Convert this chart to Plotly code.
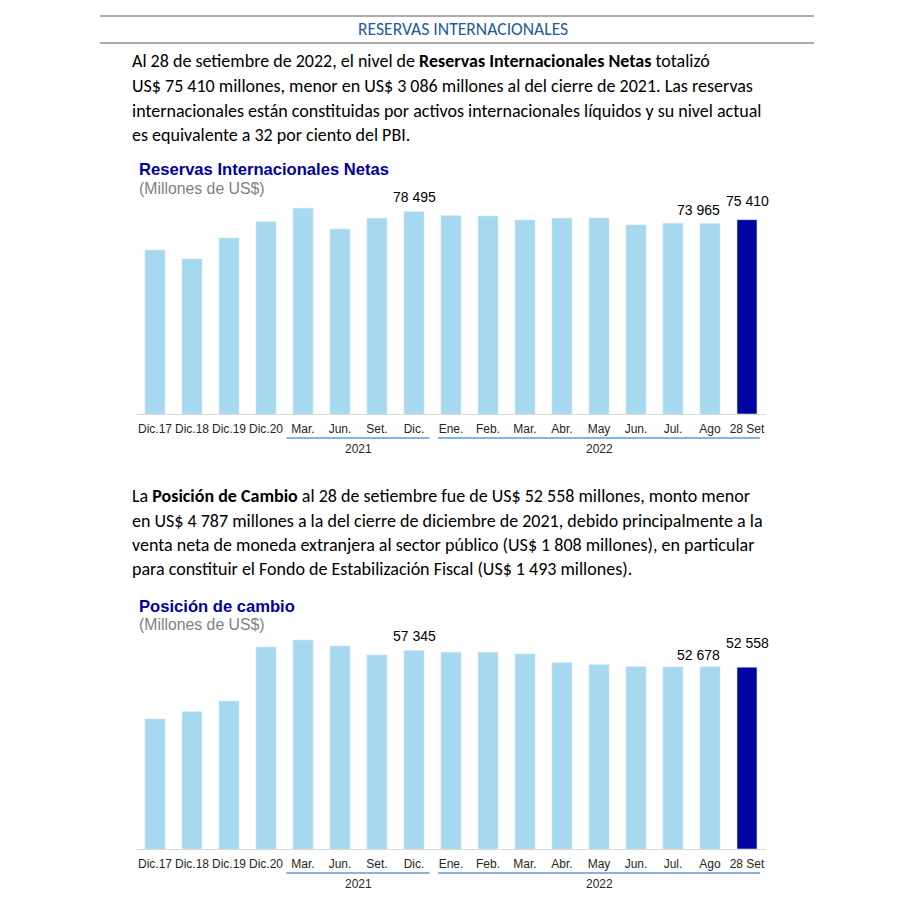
import plotly.graph_objects as go

W, H = 900, 902
OFF = 8  # page body margin of the browser


def px(x):
    return (x - OFF) / W


def py(y):
    return 1 - (y - OFF) / H


# ---------------- data ----------------
categories = ["Dic.17", "Dic.18", "Dic.19", "Dic.20", "Mar.", "Jun.", "Set.", "Dic.",
              "Ene.", "Feb.", "Mar.", "Abr.", "May", "Jun.", "Jul.", "Ago", "28 Set"]
rin = [63660, 60170, 68320, 74650, 79860, 71820, 75970, 78495,
       76980, 76860, 75310, 75970, 76090, 73370, 74030, 73965, 75410]
posicion = [37570, 39680, 42770, 58380, 60400, 58670, 56070, 57345,
            56870, 56850, 56360, 53840, 53270, 52690, 52600, 52678, 52558]
year_labels = ["2021", "2022"]
year_start = [4, 8]
year_end = [7, 16]
labeled_idx = [7, 15, 16]

page_title = "RESERVAS INTERNACIONALES"
para1 = [
    "Al 28 de setiembre de 2022, el nivel de <b>Reservas Internacionales Netas</b> totalizó",
    "US$ 75 410 millones, menor en US$ 3 086 millones al del cierre de 2021. Las reservas",
    "internacionales están constituidas por activos internacionales líquidos y su nivel actual",
    "es equivalente a 32 por ciento del PBI.",
]
para2 = [
    "La <b>Posición de Cambio</b> al 28 de setiembre fue de US$ 52 558 millones, monto menor",
    "en US$ 4 787 millones a la del cierre de diciembre de 2021, debido principalmente a la",
    "venta neta de moneda extranjera al sector público (US$ 1 808 millones), en particular",
    "para constituir el Fondo de Estabilización Fiscal (US$ 1 493 millones).",
]
chart_titles = ["Reservas Internacionales Netas", "Posición de cambio"]
chart_sub = "(Millones de US$)"

# ---------------- style ----------------
LIGHT = "#a6d8ef"
DARK = "#0202a0"
BODY_FONT = "Carlito, Lato, sans-serif"
ARIAL = "Liberation Sans, Arial, sans-serif"

fig = go.Figure()
xs = list(range(len(categories)))
colors = [LIGHT] * (len(categories) - 1) + [DARK]

charts = [
    dict(vals=rin, xa="x", ya="y", base=414, top=195, ymax=85000,
         shifts={7: (0, 5), 15: (-12, 3), 16: (0, 9)}, title_y=170),
    dict(vals=posicion, xa="x2", ya="y2", base=849, top=630, ymax=63300,
         shifts={7: (0, 5), 15: (-12, 2), 16: (0, 14)}, title_y=606),
]

annotations = []
shapes = []

for k, c in enumerate(charts):
    fig.add_trace(go.Bar(
        x=xs, y=c["vals"], xaxis=c["xa"], yaxis=c["ya"],
        marker=dict(color=colors, line=dict(width=0.6, color="#c8e8f6")),
        width=0.54, hoverinfo="skip", showlegend=False,
    ))
    sfx = "" if k == 0 else "2"
    fig.update_layout(**{
        "xaxis" + sfx: dict(
            domain=[px(136.5), px(765.5)], range=[-0.5, 16.5],
            tickmode="array", tickvals=xs, ticktext=categories,
            showline=True, linecolor="#d9d9d9", linewidth=1.2,
            showgrid=False, zeroline=False, ticks="",
            ticklabelstandoff=3,
            tickfont=dict(family=ARIAL, size=12, color="#262626"),
            anchor="y" + sfx, fixedrange=True,
        ),
        "yaxis" + sfx: dict(
            domain=[py(c["base"]), py(c["top"])], range=[0, c["ymax"]],
            visible=False, anchor="x" + sfx, fixedrange=True,
        ),
    })
    # value labels
    for i in labeled_idx:
        dx, dy = c["shifts"][i]
        annotations.append(dict(
            x=i, y=c["vals"][i], xref=c["xa"], yref=c["ya"],
            text=f"{c['vals'][i]:,}".replace(",", " "),
            showarrow=False, yanchor="bottom", xanchor="center",
            xshift=dx, yshift=dy,
            font=dict(family=ARIAL, size=14, color="#000000"),
        ))
    # year groups
    line_y = c["base"] + 24
    for j, yl in enumerate(year_labels):
        pad0 = 0.45 if j == 0 else 0.35
        pad1 = 0.42 if j == 0 else 0.35
        shapes.append(dict(
            type="line", xref=c["xa"], yref="paper",
            x0=year_start[j] - pad0, x1=year_end[j] + pad1,
            y0=py(line_y), y1=py(line_y),
            line=dict(color="#5b9bd5", width=1.3),
        ))
        annotations.append(dict(
            x=(year_start[j] + year_end[j]) / 2, y=py(c["base"] + 35),
            xref=c["xa"], yref="paper", text=yl, showarrow=False,
            xanchor="center", yanchor="middle",
            font=dict(family=ARIAL, size=12, color="#262626"),
        ))
    # chart title and subtitle
    annotations.append(dict(
        x=px(137), y=py(c["title_y"]), xref="paper", yref="paper",
        text=f"<b>{chart_titles[k]}</b>", showarrow=False,
        xanchor="left", yanchor="middle",
        font=dict(family=ARIAL, size=16.6, color="#0000a0"),
    ))
    annotations.append(dict(
        x=px(137), y=py(c["title_y"] + 18), xref="paper", yref="paper",
        text=chart_sub, showarrow=False, xanchor="left", yanchor="middle",
        font=dict(family=ARIAL, size=15.8, color="#7f7f7f"),
    ))

# header
for yy in (16, 43):
    shapes.append(dict(type="line", xref="paper", yref="paper",
                       x0=px(100), x1=px(814), y0=py(yy), y1=py(yy),
                       line=dict(color="#595959", width=1)))
annotations.append(dict(
    x=px(463), y=py(29.5), xref="paper", yref="paper", text=page_title,
    showarrow=False, xanchor="center", yanchor="middle",
    font=dict(family=BODY_FONT, size=17.6, color="#1f5c9c"),
))

# paragraphs
for lines, ys in ((para1, [61, 86, 111, 135]), (para2, [496, 521, 545, 569])):
    for t, yy in zip(lines, ys):
        annotations.append(dict(
            x=px(130), y=py(yy), xref="paper", yref="paper", text=t,
            showarrow=False, xanchor="left", yanchor="middle",
            font=dict(family=BODY_FONT, size=18, color="#000000"),
        ))

fig.update_layout(
    width=W, height=H, margin=dict(l=0, r=0, t=0, b=0),
    paper_bgcolor="white", plot_bgcolor="white",
    annotations=annotations, shapes=shapes, showlegend=False,
    bargap=0.46,
)

fig.write_html("out.html")
